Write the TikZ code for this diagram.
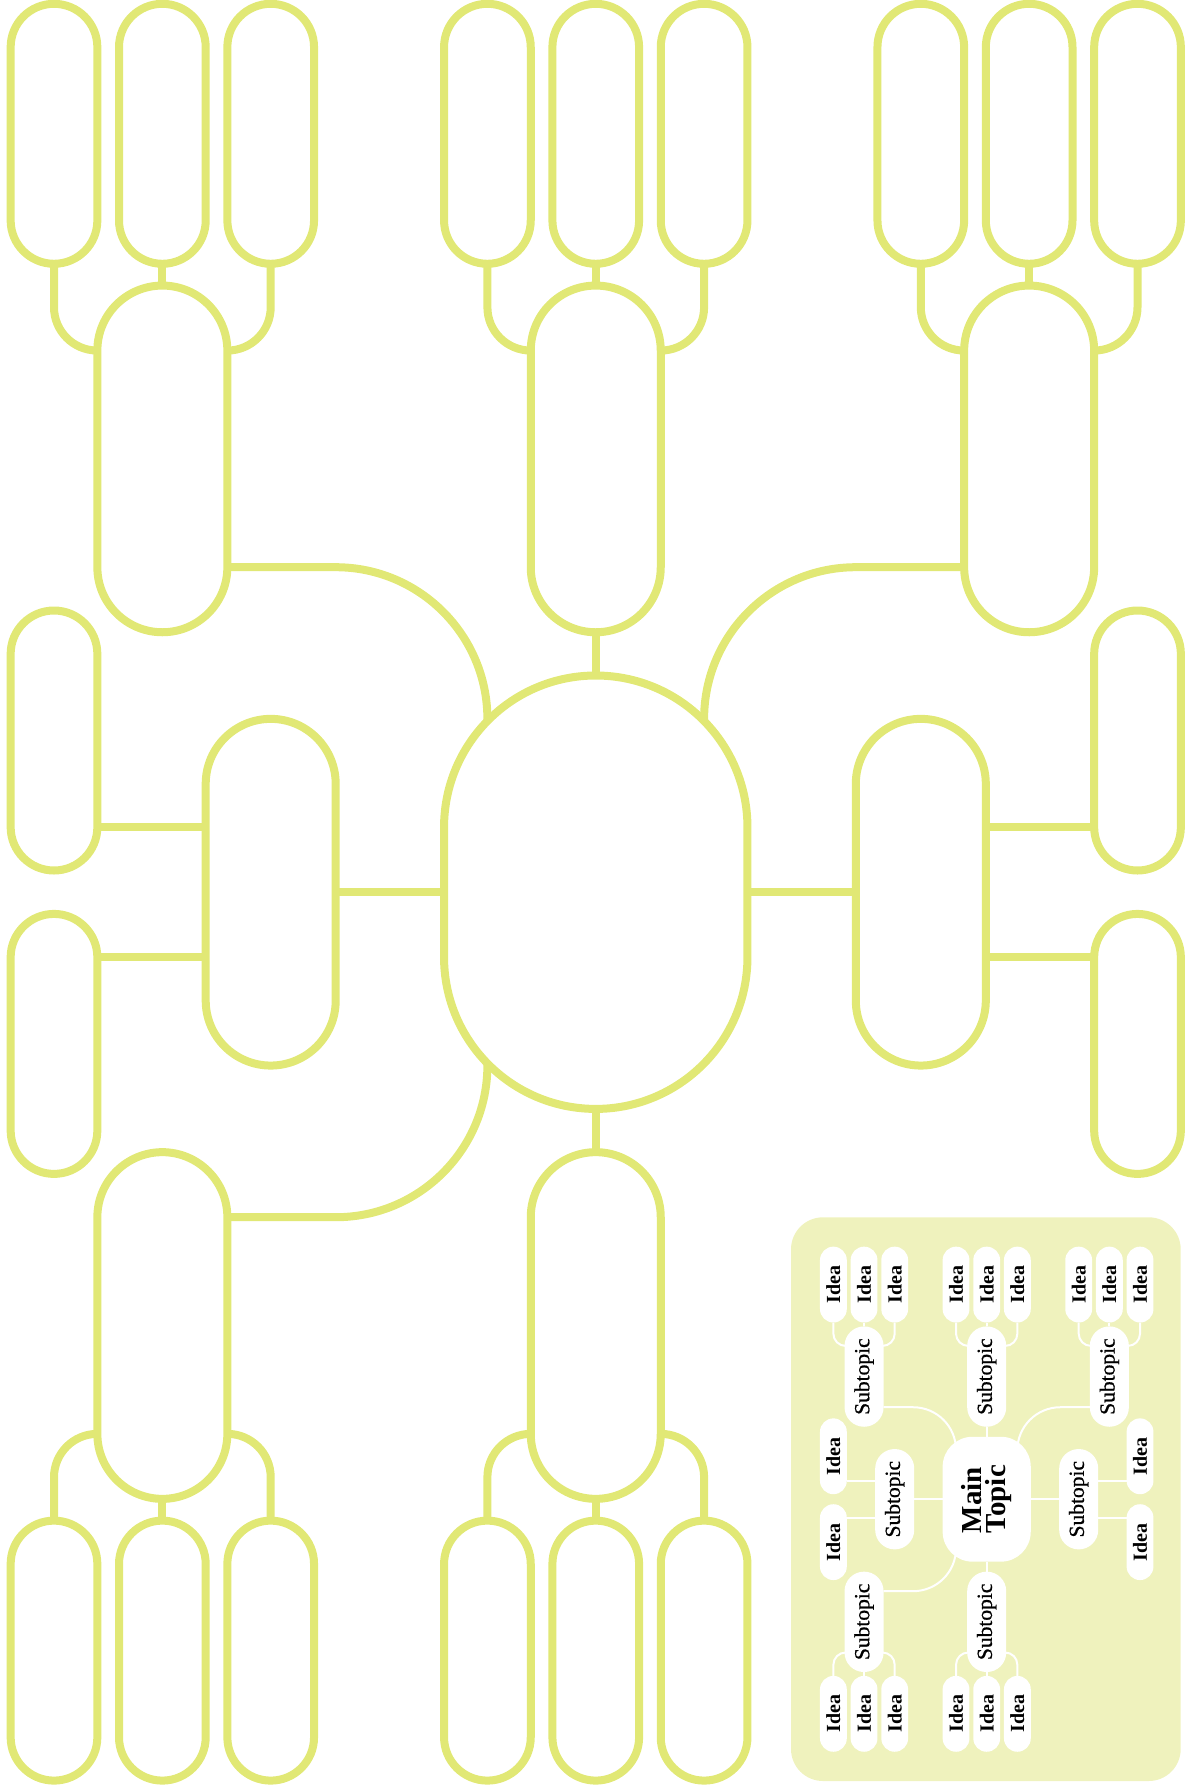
\documentclass[tikz,border=0pt]{standalone}
\usepackage{fontspec}
\setmainfont{Liberation Serif}
\newfontfamily\subfnt[FakeBold=0.8]{Liberation Serif}
\usetikzlibrary{calc}
\pgfdeclarelayer{back}
\pgfdeclarelayer{bg}
\pgfsetlayers{back,bg,main}
\definecolor{ylw}{RGB}{225,232,117}
\definecolor{lgnd}{RGB}{239,242,189}
\tikzset{
 bnode/.style={draw=ylw, line width=8pt, fill=white, inner sep=0pt, outer sep=0pt},
 mnode/.style={fill=white, draw=none, inner sep=0pt, outer sep=0pt},
 bline/.style={draw=ylw, line width=8pt},
 mline/.style={draw=white, line width=2pt},
 ideafont/.style={font=\bfseries\fontsize{20}{24}\selectfont},
 subfont/.style={font=\subfnt\fontsize{21.5}{24}\selectfont},
 mainfont/.style={font=\bfseries\fontsize{29}{24}\selectfont, align=left},
 legendbox/.style={fill=lgnd, draw=none, rounded corners=32pt, inner sep=0pt},
}
% box: name, X, Y, W, H, R
\newcommand{\mmbox}[6]{%
 \pgfmathsetmacro\qW{\mS*(#4+\mG)}%
 \pgfmathsetmacro\qH{\mS*(#5+\mG)}%
 \pgfmathsetmacro\qRc{\mS*(#6+\mG/2)}%
 \pgfmathsetmacro\qX{\mOX+\mS*(#2)}%
 \pgfmathsetmacro\qY{\mOY+\mS*(#3)}%
 \node[curnode, minimum width=\qW pt, minimum height=\qH pt, rounded corners=\qRc pt] (\mP#1) at (\qX,\qY) {};}
\newcommand{\mmtext}[3]{\ifnum\mTx=1 \node[rotate=90, inner sep=0pt, #3] (\mP#1t) at (\mP#1.center) {#2};\fi}
\newcommand{\mmidea}[3]{\mmbox{#1}{#2}{#3}{86.7}{260}{43.35}\mmtext{#1}{Idea}{ideafont}}
\newcommand{\mmsub}[3]{\mmbox{#1}{#2}{#3}{130}{346.7}{65}\mmtext{#1}{Subtopic}{subfont}}
\newcommand{\mmtop}[1]{%
 \draw[curline] (\mP#1b.south) -- (\mP#1.north);
 \draw[curline] (\mP#1a.south) -- ++(0,\qV) arc[start angle=180,end angle=90,radius=\qr];
 \draw[curline] (\mP#1c.south) -- ++(0,\qV) arc[start angle=0,end angle=90,radius=\qr];}
\newcommand{\mmbot}[1]{%
 \draw[curline] (\mP#1b.north) -- (\mP#1.south);
 \draw[curline] (\mP#1a.north) -- ++(0,-\qV) arc[start angle=180,end angle=270,radius=\qr];
 \draw[curline] (\mP#1c.north) -- ++(0,-\qV) arc[start angle=0,end angle=-90,radius=\qr];}
\newcommand{\mmap}{%
 \mmbox{M}{595.75}{892.2}{303.4}{433.4}{\mMR}\mmtext{M}{Main\\Topic}{mainfont}%
 \mmsub{T}{595.75}{458.9}%
 \mmidea{Ta}{487.4}{133.8}\mmidea{Tb}{595.75}{133.8}\mmidea{Tc}{704.1}{133.8}%
 \mmsub{TL}{162.35}{458.9}%
 \mmidea{TLa}{54}{133.8}\mmidea{TLb}{162.35}{133.8}\mmidea{TLc}{270.7}{133.8}%
 \mmsub{TR}{1029.15}{458.9}%
 \mmidea{TRa}{920.8}{133.8}\mmidea{TRb}{1029.15}{133.8}\mmidea{TRc}{1137.5}{133.8}%
 \mmsub{L}{270.7}{892.2}\mmidea{La}{54}{740.5}\mmidea{Lb}{54}{1043.9}%
 \mmsub{R}{920.8}{892.2}\mmidea{Ra}{1137.5}{740.5}\mmidea{Rb}{1137.5}{1043.9}%
 \mmsub{BL}{162.35}{1325.5}%
 \mmidea{BLa}{54}{1650.6}\mmidea{BLb}{162.35}{1650.6}\mmidea{BLc}{270.7}{1650.6}%
 \mmsub{B}{595.75}{1325.5}%
 \mmidea{Ba}{487.4}{1650.6}\mmidea{Bb}{595.75}{1650.6}\mmidea{Bc}{704.1}{1650.6}%
 \pgfmathsetmacro\qV{\mS*(43.4-\mG/2)}%
 \pgfmathsetmacro\qr{\mS*43.35}%
 \pgfmathsetmacro\qh{\mS*86.7}%
 \pgfmathsetmacro\qq{\mS*108.3}%
 \pgfmathsetmacro\qR{\mS*151.7}%
 \pgfmathsetmacro\qE{\mS*8}%
 \pgfmathsetmacro\qxA{\mOX+\mS*335.7}%
 \pgfmathsetmacro\qxB{\mOX+\mS*855.8}%
 \pgfmathsetmacro\qyA{\mOY+\mS*567.2}%
 \pgfmathsetmacro\qyB{\mOY+\mS*1217.2}%
 \begin{pgfonlayer}{bg}
 \mmtop{T}\mmtop{TL}\mmtop{TR}\mmbot{BL}\mmbot{B}
 \draw[curline] (\mP T.south) -- (\mP M.north);
 \draw[curline] (\mP B.north) -- (\mP M.south);
 \draw[curline] (\mP L.east) -- (\mP M.west);
 \draw[curline] (\mP R.west) -- (\mP M.east);
 \coordinate (\mP cLa) at ($(\mP La.east)+(0,\qh)$);
 \coordinate (\mP cLb) at ($(\mP Lb.east)+(0,-\qh)$);
 \coordinate (\mP cRa) at ($(\mP Ra.west)+(0,\qh)$);
 \coordinate (\mP cRb) at ($(\mP Rb.west)+(0,-\qh)$);
 \draw[curline] (\mP cLa) -- (\mP cLa -| \mP L.west);
 \draw[curline] (\mP cLb) -- (\mP cLb -| \mP L.west);
 \draw[curline] (\mP cRa) -- (\mP cRa -| \mP R.east);
 \draw[curline] (\mP cRb) -- (\mP cRb -| \mP R.east);
 \coordinate (\mP cTL) at ($(\mP TL.east)+(0,\qq)$);
 \coordinate (\mP cTR) at ($(\mP TR.west)+(0,\qq)$);
 \coordinate (\mP cBL) at ($(\mP BL.east)+(0,-\qq)$);
 \draw[curline] (\mP cTL) -- (\qxA,\qyA) arc[start angle=270,end angle=360,radius=\qR] -- ++(0,\qE);
 \draw[curline] (\mP cTR) -- (\qxB,\qyA) arc[start angle=270,end angle=180,radius=\qR] -- ++(0,\qE);
 \draw[curline] (\mP cBL) -- (\qxA,\qyB) arc[start angle=90,end angle=0,radius=\qR] -- ++(0,-\qE);
 \end{pgfonlayer}}
\begin{document}
\begin{tikzpicture}[x=1pt,y=-1pt]
\useasboundingbox (0,0) rectangle (1192,1791);
\begin{pgfonlayer}{back}
\node[legendbox, minimum width=389.7pt, minimum height=563.7pt] (legend) at (985.85,1499.15) {};
\end{pgfonlayer}
\def\mP{b}\def\mS{1}\def\mOX{0}\def\mOY{0}\def\mG{0}\def\mTx{0}\def\mMR{151.7}
\tikzset{curnode/.style={bnode},curline/.style={bline}}
\mmap
\def\mP{m}\def\mS{0.283}\def\mOX{818.1}\def\mOY{1246.7}\def\mG{8}\def\mTx{1}\def\mMR{102}
\tikzset{curnode/.style={mnode},curline/.style={mline}}
\mmap
\end{tikzpicture}
\end{document}
